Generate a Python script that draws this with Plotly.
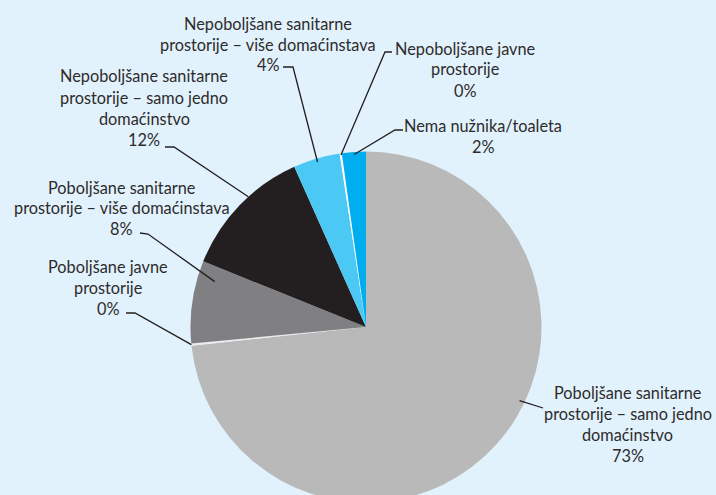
import math
import plotly.graph_objects as go

# Data: share of households by type of sanitation (clockwise from 12 o'clock)
categories = [
    "Poboljšane sanitarne prostorije – samo jedno domaćinstvo",
    "Poboljšane javne prostorije",
    "Poboljšane sanitarne prostorije – više domaćinstava",
    "Nepoboljšane sanitarne prostorije – samo jedno domaćinstvo",
    "Nepoboljšane sanitarne prostorije – više domaćinstava",
    "Nepoboljšane javne prostorije",
    "Nema nužnika/toaleta",
]
values = [73.3, 0.2, 7.6, 12.2, 4.3, 0.2, 2.2]
pct_labels = ["73%", "0%", "8%", "12%", "4%", "0%", "2%"]
label_lines = [
    ["Poboljšane sanitarne", "prostorije – samo jedno", "domaćinstvo"],
    ["Poboljšane javne", "prostorije"],
    ["Poboljšane sanitarne", "prostorije – više domaćinstava"],
    ["Nepoboljšane sanitarne", "prostorije – samo jedno", "domaćinstvo"],
    ["Nepoboljšane sanitarne", "prostorije – više domaćinstava"],
    ["Nepoboljšane javne", "prostorije"],
    ["Nema nužnika/toaleta"],
]

colors = ["#b9b9ba", "#ececec", "#808083", "#231f20", "#4bc8f4", "#ffffff", "#00aeef"]

# figure is a bit taller than the window so the bottom of the pie is cut off
W, H = 716, 503
BG = "#e1f2fc"
TXT = "#2e2b2c"
CX, CY, R = 366, 327, 175.5  # pie centre / radius in pixels
LINE_H = 21

# label layout: centre x, first line y, leader start, leader elbow (pixels)
label_pos = [
    (627.5, 392.5, (543, 408), (543, 408)),
    (108, 266, (126, 313), (135, 313)),
    (122, 187, (140, 233), (148, 234)),
    (144, 76, (165, 147), (174, 147)),
    (268, 23, (283, 67), (293, 67)),
    (465, 48, (392, 52), (385, 52)),
    (483, 125.5, (403, 130), (395, 130)),
]
leader_frac = [0.97, 1.0, 0.9, 1.0, 0.98, 0.99, 0.985]
angle_override = {0: 115.6, 2: 286.7, 3: 317.9}


def px(x):
    return x / W


def py(y):
    return 1 - y / H


fig = go.Figure(go.Pie(
    labels=categories,
    values=values,
    sort=False,
    direction="clockwise",
    rotation=0,
    marker=dict(colors=colors, line=dict(width=0)),
    textinfo="none",
    hoverinfo="label+percent",
    showlegend=False,
    domain=dict(x=[px(CX - R), px(CX + R)], y=[max(0, py(CY + R)), py(CY - R)]),
))

annotations = []
shapes = []
total = sum(values)
cum = 0
for i, v in enumerate(values):
    mid = (cum + v / 2) / total * 360
    cum += v
    ang = math.radians(angle_override.get(i, mid))
    ex = CX + R * leader_frac[i] * math.sin(ang)
    ey = CY - R * leader_frac[i] * math.cos(ang)

    cx, y0, start, elbow = label_pos[i]
    lines = label_lines[i] + [pct_labels[i]]
    for k, t in enumerate(lines):
        annotations.append(dict(
            x=px(cx), y=py(y0 + k * LINE_H), xref="paper", yref="paper",
            text=t, showarrow=False, xanchor="center", yanchor="middle",
            font=dict(family="Lato", size=16.3, color=TXT),
        ))
    path = "M {},{} L {},{} L {},{}".format(
        px(start[0]), py(start[1]), px(elbow[0]), py(elbow[1]), px(ex), py(ey))
    shapes.append(dict(type="path", path=path, xref="paper", yref="paper",
                       line=dict(color="#231f20", width=1.3)))

fig.update_layout(
    width=W,
    height=H,
    margin=dict(l=0, r=0, t=0, b=0),
    paper_bgcolor=BG,
    plot_bgcolor=BG,
    annotations=annotations,
    shapes=shapes,
)

fig.write_html(
    "out.html",
    config={"displayModeBar": False},
    post_script="document.body.style.margin='0';document.body.style.overflow='hidden';",
)
